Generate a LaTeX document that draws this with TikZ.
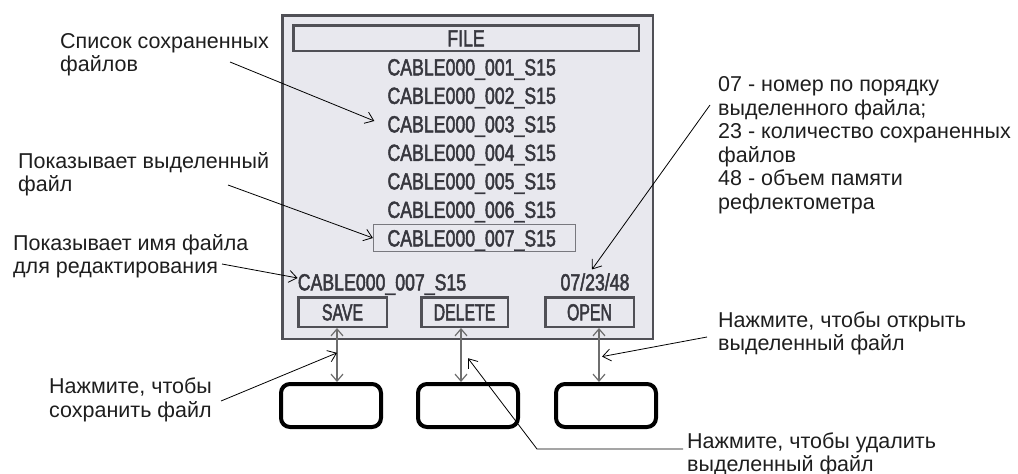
\documentclass[tikz,border=0pt]{standalone}
\usepackage{fontspec}
\setmainfont{Liberation Sans}
\newfontfamily\lcdfont[FakeStretch=0.76,FakeBold=2]{Liberation Sans}
\newfontfamily\btnfont[FakeStretch=0.68,FakeBold=2]{Liberation Sans}
\usetikzlibrary{arrows.meta}

\definecolor{screenfill}{RGB}{232,232,238}
\definecolor{screenline}{RGB}{80,80,86}
\definecolor{lcdgray}{RGB}{55,55,62}
\definecolor{selline}{RGB}{120,120,126}
\definecolor{arrowgray}{RGB}{110,110,110}
\definecolor{notegray}{RGB}{30,30,30}

\begin{document}
\begin{tikzpicture}[x=1pt, y=-1pt,
  lcdtext/.style = {font=\lcdfont\fontsize{23.3}{28}\selectfont, text=lcdgray,
                    inner sep=0pt, text height=16.7pt, text depth=0pt},
  btntext/.style = {lcdtext, font=\btnfont\fontsize{23.3}{28}\selectfont},
  lcdbox/.style  = {draw=screenline, line width=2.5pt},
  note/.style    = {font=\fontsize{21.5}{23.5}\selectfont, text=notegray,
                    align=left, anchor=base west, inner sep=0pt},
  leader/.style  = {draw=black, line width=0.8pt, -{Straight Barb[length=8pt,width=12pt]}},
  keyarrow/.style = {draw=arrowgray, line width=1.2pt,
                     {Straight Barb[length=7pt,width=12pt]}-{Straight Barb[length=7pt,width=12pt]}},
  hardkey/.style = {draw=black, line width=4pt, rounded corners=9pt, fill=white,
                    minimum width=100pt, minimum height=43pt}]
  \useasboundingbox (0,0) rectangle (1018,474);

  %%% screen %%%
  \node[lcdbox, fill=screenfill, minimum width=370.5pt, minimum height=323.5pt] (screen) at (467.5,177) {};
  % header
  \node[lcdbox, lcdtext, minimum width=345.5pt, minimum height=25.5pt] (header) at (466,38) {FILE};
  % file list
  \node[lcdtext] (file1) at (471.7,67) {CABLE000\_001\_S15};
  \node[lcdtext] (file2) at (471.7,95.5) {CABLE000\_002\_S15};
  \node[lcdtext] (file3) at (471.7,124) {CABLE000\_003\_S15};
  \node[lcdtext] (file4) at (471.7,152.5) {CABLE000\_004\_S15};
  \node[lcdtext] (file5) at (471.7,181) {CABLE000\_005\_S15};
  \node[lcdtext] (file6) at (471.7,209.5) {CABLE000\_006\_S15};
  \node[lcdtext] (file7) at (471.7,238) {CABLE000\_007\_S15};
  % selection frame
  \node[draw=selline, line width=1.2pt, minimum width=202pt, minimum height=27pt] (selected) at (474.5,238) {};
  % bottom row
  \node[lcdtext] (editname) at (382,282) {CABLE000\_007\_S15};
  \node[lcdtext] (counter) at (595,282) {07/23/48};
  % soft buttons
  \node[lcdbox, btntext, minimum width=88.5pt, minimum height=29.5pt] (savebtn) at (342.5,312) {SAVE};
  \node[lcdbox, btntext, minimum width=86.5pt, minimum height=29.5pt] (deletebtn) at (464.5,312) {DELETE};
  \node[lcdbox, btntext, minimum width=88.5pt, minimum height=29.5pt] (openbtn) at (589.5,312) {OPEN};

  %%% hard keys %%%
  \node[hardkey] (savekey) at (331,405.5) {};
  \node[hardkey] (deletekey) at (468,405.5) {};
  \node[hardkey] (openkey) at (606,405.5) {};
  % key arrows
  \draw[keyarrow] ([xshift=-5.5pt]savebtn.south) -- coordinate[pos=0.46] (savemid) ([xshift=6pt]savekey.north);
  \draw[keyarrow] ([xshift=-3.5pt]deletebtn.south) -- coordinate[pos=0.56] (deletemid) ([xshift=-7pt]deletekey.north);
  \draw[keyarrow] ([xshift=9.5pt]openbtn.south) -- coordinate[pos=0.53] (openmid) ([xshift=-7pt]openkey.north);

  %%% notes (anchored at the baseline of the last line) %%%
  \node[note] (listnote) at (60,71.5) {Список сохраненных\\файлов};
  \node[note] (selnote) at (18,191.5) {Показывает выделенный\\файл};
  \node[note] (editnote) at (13,273.5) {Показывает имя файла\\для редактирования};
  \node[note] (counternote) at (718,209) {07 - номер по порядку\\выделенного файла;\\23 - количество сохраненных\\файлов\\48 - объем памяти\\рефлектометра};
  \node[note] (opennote) at (718,350.5) {Нажмите, чтобы открыть\\выделенный файл};
  \node[note] (deletenote) at (687,471.5) {Нажмите, чтобы удалить\\выделенный файл};
  \node[note] (savenote) at (49,417) {Нажмите, чтобы\\сохранить файл};

  % leader lines
  \coordinate (listfrom) at (230,62);
  \coordinate (selfrom) at (228,185);
  \coordinate (editfrom) at (222,264);
  \coordinate (counterfrom) at (710,105);
  \coordinate (openfrom) at (707,337);
  \coordinate (deletefrom) at (683,449);
  \coordinate (deletebend) at (537,449);
  \coordinate (savefrom) at (221,401);
  \draw[leader] (listfrom) -- ([xshift=-13pt,yshift=3pt]file3.west);
  \draw[leader] (selfrom) -- (selected.west);
  \draw[leader] (editfrom) -- ([yshift=4pt]editname.west);
  \draw[leader] (counterfrom) -- ([xshift=-3pt,yshift=4pt]counter.north);
  \draw[leader] (openfrom) -- ([xshift=3pt]openmid);
  \draw[leader] (deletefrom) -- (deletebend) -- ([xshift=7pt]deletemid);
  \draw[leader] (savefrom) -- (savemid);
\end{tikzpicture}
\end{document}
